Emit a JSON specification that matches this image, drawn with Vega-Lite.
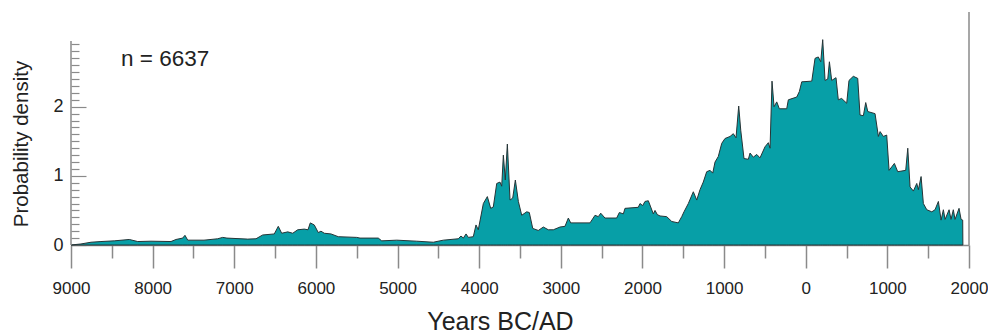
{
  "$schema": "https://vega.github.io/schema/vega-lite/v6.json",
  "width": 898,
  "height": 233,
  "autosize": {"type": "none"},
  "padding": {"left": 71, "top": 12, "right": 19, "bottom": 89},
  "config": {"view": {"stroke": null}, "font": "Liberation Sans"},
  "datasets": {
    "spd": [
      {"year": -9000, "density": 0},
      {"year": -8878, "density": 0.015},
      {"year": -8755, "density": 0.04},
      {"year": -8633, "density": 0.05},
      {"year": -8470, "density": 0.06},
      {"year": -8286, "density": 0.08},
      {"year": -8183, "density": 0.05},
      {"year": -8020, "density": 0.055},
      {"year": -7775, "density": 0.05},
      {"year": -7714, "density": 0.08},
      {"year": -7632, "density": 0.1},
      {"year": -7604, "density": 0.14},
      {"year": -7570, "density": 0.07},
      {"year": -7371, "density": 0.07},
      {"year": -7203, "density": 0.09},
      {"year": -7142, "density": 0.11},
      {"year": -7090, "density": 0.1},
      {"year": -6835, "density": 0.085},
      {"year": -6734, "density": 0.09},
      {"year": -6652, "density": 0.145},
      {"year": -6510, "density": 0.16},
      {"year": -6461, "density": 0.27},
      {"year": -6419, "density": 0.17},
      {"year": -6345, "density": 0.19},
      {"year": -6284, "density": 0.17},
      {"year": -6223, "density": 0.22},
      {"year": -6142, "density": 0.23},
      {"year": -6097, "density": 0.22},
      {"year": -6069, "density": 0.32},
      {"year": -6020, "density": 0.29},
      {"year": -5971, "density": 0.18},
      {"year": -5938, "density": 0.2},
      {"year": -5897, "density": 0.17},
      {"year": -5815, "density": 0.16},
      {"year": -5726, "density": 0.12},
      {"year": -5500, "density": 0.11},
      {"year": -5460, "density": 0.1},
      {"year": -5236, "density": 0.1},
      {"year": -5194, "density": 0.06},
      {"year": -5010, "density": 0.07},
      {"year": -4765, "density": 0.055},
      {"year": -4562, "density": 0.04},
      {"year": -4439, "density": 0.07},
      {"year": -4256, "density": 0.09},
      {"year": -4223, "density": 0.13},
      {"year": -4194, "density": 0.1},
      {"year": -4161, "density": 0.16},
      {"year": -4133, "density": 0.11},
      {"year": -4072, "density": 0.12},
      {"year": -4039, "density": 0.29},
      {"year": -4011, "density": 0.22},
      {"year": -3949, "density": 0.6},
      {"year": -3900, "density": 0.7},
      {"year": -3859, "density": 0.53},
      {"year": -3827, "density": 0.55},
      {"year": -3785, "density": 0.89},
      {"year": -3745, "density": 0.91},
      {"year": -3724, "density": 0.85},
      {"year": -3704, "density": 1.3},
      {"year": -3680, "density": 0.94},
      {"year": -3655, "density": 1.46},
      {"year": -3622, "density": 0.65},
      {"year": -3589, "density": 0.68},
      {"year": -3557, "density": 0.94},
      {"year": -3520, "density": 0.63},
      {"year": -3479, "density": 0.43},
      {"year": -3418, "density": 0.48},
      {"year": -3386, "density": 0.47},
      {"year": -3344, "density": 0.24},
      {"year": -3276, "density": 0.21},
      {"year": -3214, "density": 0.26},
      {"year": -3153, "density": 0.22},
      {"year": -3092, "density": 0.22},
      {"year": -3010, "density": 0.26},
      {"year": -2949, "density": 0.27},
      {"year": -2908, "density": 0.39},
      {"year": -2879, "density": 0.32},
      {"year": -2642, "density": 0.32},
      {"year": -2581, "density": 0.43},
      {"year": -2541, "density": 0.41},
      {"year": -2511, "density": 0.46},
      {"year": -2459, "density": 0.39},
      {"year": -2316, "density": 0.39},
      {"year": -2283, "density": 0.47},
      {"year": -2234, "density": 0.45},
      {"year": -2214, "density": 0.53},
      {"year": -2051, "density": 0.545},
      {"year": -2030, "density": 0.6},
      {"year": -1997, "density": 0.57},
      {"year": -1969, "density": 0.63},
      {"year": -1928, "density": 0.64},
      {"year": -1899, "density": 0.55},
      {"year": -1867, "density": 0.45},
      {"year": -1846, "density": 0.5},
      {"year": -1818, "density": 0.44},
      {"year": -1785, "density": 0.42},
      {"year": -1703, "density": 0.41},
      {"year": -1641, "density": 0.34},
      {"year": -1561, "density": 0.32},
      {"year": -1519, "density": 0.41},
      {"year": -1491, "density": 0.48},
      {"year": -1438, "density": 0.6},
      {"year": -1377, "density": 0.77},
      {"year": -1335, "density": 0.65},
      {"year": -1295, "density": 0.8},
      {"year": -1255, "density": 0.91},
      {"year": -1213, "density": 1.06},
      {"year": -1172, "density": 1.08},
      {"year": -1139, "density": 1.04},
      {"year": -1111, "density": 1.2},
      {"year": -1071, "density": 1.28},
      {"year": -1029, "density": 1.47},
      {"year": -989, "density": 1.54},
      {"year": -927, "density": 1.57},
      {"year": -887, "density": 1.61},
      {"year": -854, "density": 1.55},
      {"year": -821, "density": 2.01},
      {"year": -796, "density": 1.66},
      {"year": -756, "density": 1.25},
      {"year": -703, "density": 1.24},
      {"year": -682, "density": 1.33},
      {"year": -642, "density": 1.27},
      {"year": -600, "density": 1.31},
      {"year": -560, "density": 1.26},
      {"year": -499, "density": 1.42},
      {"year": -458, "density": 1.48},
      {"year": -437, "density": 1.4},
      {"year": -413, "density": 2.37},
      {"year": -388, "density": 2.0},
      {"year": -355, "density": 2.07},
      {"year": -323, "density": 1.97},
      {"year": -233, "density": 1.97},
      {"year": -213, "density": 2.1},
      {"year": -110, "density": 2.14},
      {"year": -78, "density": 2.22},
      {"year": -49, "density": 2.36},
      {"year": 74, "density": 2.37},
      {"year": 114, "density": 2.7},
      {"year": 154, "density": 2.72},
      {"year": 184, "density": 2.65},
      {"year": 208, "density": 2.97},
      {"year": 237, "density": 2.38},
      {"year": 270, "density": 2.4},
      {"year": 290, "density": 2.65},
      {"year": 318, "density": 2.38},
      {"year": 371, "density": 2.42},
      {"year": 399, "density": 2.1},
      {"year": 440, "density": 2.12},
      {"year": 502, "density": 2.05},
      {"year": 530, "density": 2.38},
      {"year": 583, "density": 2.44},
      {"year": 637, "density": 2.41},
      {"year": 665, "density": 1.88},
      {"year": 706, "density": 1.87},
      {"year": 735, "density": 2.06},
      {"year": 760, "density": 1.93},
      {"year": 849, "density": 1.9},
      {"year": 890, "density": 1.57},
      {"year": 911, "density": 1.64},
      {"year": 951, "density": 1.57},
      {"year": 992, "density": 1.59},
      {"year": 1021, "density": 1.08},
      {"year": 1054, "density": 1.13},
      {"year": 1086, "density": 1.18},
      {"year": 1127, "density": 1.06},
      {"year": 1225, "density": 1.08},
      {"year": 1250, "density": 1.4},
      {"year": 1278, "density": 0.84},
      {"year": 1319, "density": 0.78},
      {"year": 1360, "density": 0.89},
      {"year": 1380, "density": 0.8},
      {"year": 1413, "density": 0.99},
      {"year": 1441, "density": 0.6},
      {"year": 1483, "density": 0.51},
      {"year": 1544, "density": 0.48},
      {"year": 1584, "density": 0.51},
      {"year": 1625, "density": 0.63},
      {"year": 1658, "density": 0.36},
      {"year": 1686, "density": 0.51},
      {"year": 1707, "density": 0.37},
      {"year": 1756, "density": 0.51},
      {"year": 1780, "density": 0.37},
      {"year": 1808, "density": 0.51},
      {"year": 1829, "density": 0.37},
      {"year": 1878, "density": 0.53},
      {"year": 1903, "density": 0.37},
      {"year": 1923, "density": 0.36},
      {"year": 1925, "density": 0}
    ],
    "frame": [
      {"year": -9000, "density": 0, "hi": 2.95},
      {"year": 2000, "density": 0, "hi": 3.37}
    ],
    "note": [
      {"year": -8387, "density": 2.59, "label": "n = 6637"}
    ]
  },
  "encoding": {
    "x": {
      "field": "year", "type": "quantitative",
      "scale": {"domain": [-9000, 2000], "nice": false, "zero": false},
      "axis": {
        "values": [-9000, -8500, -8000, -7500, -7000, -6500, -6000, -5500, -5000, -4500, -4000, -3500, -3000, -2500, -2000, -1500, -1000, -500, 0, 500, 1000, 1500, 2000],
        "tickSize": {"condition": {"test": "datum.value % 1000 == 0", "value": 23}, "value": 13},
        "labelExpr": "datum.value % 1000 == 0 ? format(abs(datum.value), 'd') : ''",
        "labelFontSize": 17, "labelColor": "#222222", "labelPadding": 12,
        "labelOverlap": false, "labelBound": false, "labelFlush": false,
        "domainColor": "#8a8a8a", "domainWidth": 1.5, "tickColor": "#8a8a8a", "tickWidth": 1.5,
        "grid": false,
        "title": "Years BC/AD", "titleFontSize": 25, "titleFontWeight": "normal", "titleColor": "#222222",
        "titleX": 429, "titleY": 84, "titleBaseline": "alphabetic", "titleAlign": "center"
      }
    },
    "y": {
      "field": "density", "type": "quantitative",
      "scale": {"domain": [0, 3.37], "nice": false},
      "axis": {
        "values": [0, 0.1, 0.2, 0.3, 0.4, 0.5, 0.6, 0.7, 0.8, 0.9, 1, 1.1, 1.2, 1.3, 1.4, 1.5, 1.6, 1.7, 1.8, 1.9, 2, 2.1, 2.2, 2.3, 2.4, 2.5, 2.6, 2.7, 2.8, 2.9],
        "domain": false,
        "tickSize": {"condition": {"test": "datum.value % 1 == 0", "value": -15}, "value": -8},
        "labelExpr": "datum.value % 1 == 0 ? format(datum.value, 'd') : ''",
        "labelFontSize": 18, "labelColor": "#222222", "labelPadding": 23,
        "labelOverlap": false, "labelBound": false, "labelFlush": false,
        "tickColor": "#8a8a8a", "tickWidth": 1.2,
        "grid": false,
        "title": "Probability density", "titleFontSize": 20.5, "titleFontWeight": "normal", "titleColor": "#222222",
        "titleX": -44, "titleY": 131.5, "titleAngle": 270, "titleBaseline": "alphabetic", "titleAlign": "center"
      }
    }
  },
  "layer": [
    {
      "data": {"name": "spd"},
      "mark": {"type": "area", "color": "#079FA7", "stroke": "#263436", "strokeWidth": 1, "strokeJoin": "miter"}
    },
    {
      "data": {"name": "frame"},
      "mark": {"type": "rule", "color": "#8a8a8a", "strokeWidth": 1.5},
      "encoding": {
        "y2": {"field": "hi"}
      }
    },
    {
      "data": {"name": "note"},
      "mark": {"type": "text", "align": "left", "baseline": "alphabetic", "fontSize": 22.5, "color": "#222222"},
      "encoding": {
        "text": {"field": "label"}
      }
    }
  ]
}
